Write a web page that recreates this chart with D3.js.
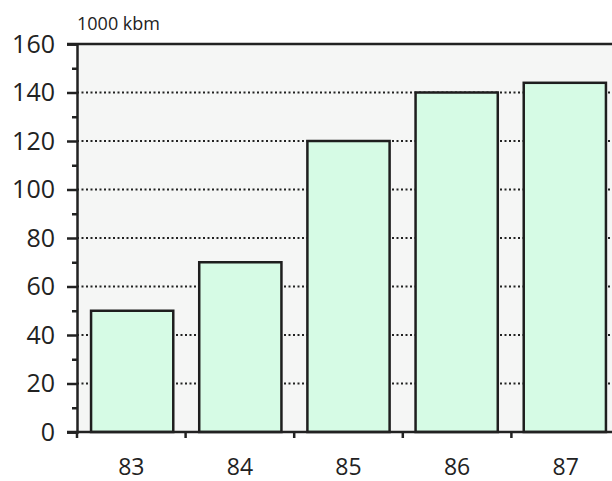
<!DOCTYPE html>
<html><head><meta charset="utf-8">
<script src="https://cdn.jsdelivr.net/npm/d3@7"></script>
<style>body{margin:0;background:#fff}svg{display:block}</style>
</head><body>
<script>
const categories = ["83","84","85","86","87"];
const values = [50, 70, 120, 140, 144];
const yTicks = [0,20,40,60,80,100,120,140,160];
const yMinorTicks = [10,30,50,70,90,110,130,150];
const unitLabel = "1000 kbm";

const W=612,H=481;
const m={left:77,top:44,right:-8,bottom:49};
const svg=d3.select("body").append("svg").attr("width",W).attr("height",H);
const x=d3.scaleBand().domain(categories).range([m.left,W-m.right]).paddingInner(0.24).paddingOuter(0.13);
const xb=d3.scaleBand().domain(categories).range([m.left,W-m.right]);
const y=d3.scaleLinear().domain([0,160]).range([H-m.bottom,m.top]);
const font="'Open Sans', sans-serif";

svg.append("rect").attr("x",m.left).attr("y",y(160)).attr("width",W-m.left+10).attr("height",y(0)-y(160)).attr("fill","#f5f6f5");

// gridlines
svg.append("g").selectAll("line").data(yTicks.filter(d=>d>0&&d<160)).join("line")
 .attr("x1",m.left).attr("x2",W+10).attr("y1",d=>y(d)).attr("y2",d=>y(d))
 .attr("stroke","#222").attr("stroke-width",2).attr("stroke-dasharray","2,2.5");

// bars
svg.append("g").selectAll("rect").data(values).join("rect")
 .attr("x",(d,i)=>x(categories[i])).attr("width",x.bandwidth())
 .attr("y",d=>y(d)).attr("height",d=>y(0)-y(d))
 .attr("fill","#d6fbe5").attr("stroke","#1e1e1e").attr("stroke-width",2.5);

// top border
svg.append("line").attr("x1",67).attr("x2",W+10).attr("y1",y(160)).attr("y2",y(160)).attr("stroke","#222").attr("stroke-width",2.5);

// y axis
const ya=svg.append("g").attr("transform",`translate(${m.left},0)`)
 .call(d3.axisLeft(y).tickValues(yTicks).tickSize(10).tickPadding(12));
ya.select(".domain").attr("stroke","#222").attr("stroke-width",2.5);
ya.selectAll(".tick line").attr("stroke","#222").attr("stroke-width",2.5);
ya.selectAll("text").attr("font-family",font).attr("font-size",25).attr("fill","#222");
const ym=svg.append("g").attr("transform",`translate(${m.left},0)`)
 .call(d3.axisLeft(y).tickValues(yMinorTicks).tickSize(5).tickFormat(""));
ym.select(".domain").remove();
ym.selectAll(".tick line").attr("stroke","#222").attr("stroke-width",2.5);

// x axis
const xa=svg.append("g").attr("transform",`translate(0,${y(0)})`)
 .call(d3.axisBottom(xb).tickSize(0).tickPadding(27));
xa.select(".domain").remove();
xa.selectAll("text").attr("font-family",font).attr("font-size",23).attr("fill","#222");
svg.append("line").attr("x1",67).attr("x2",W+10).attr("y1",y(0)).attr("y2",y(0)).attr("stroke","#222").attr("stroke-width",2.5);
svg.append("g").selectAll("line").data(categories).join("line")
 .attr("x1",d=>xb(d)).attr("x2",d=>xb(d)).attr("y1",y(0)).attr("y2",y(0)+6)
 .attr("stroke","#222").attr("stroke-width",2.5);

svg.append("text").attr("x",m.left).attr("y",30).attr("font-family",font).attr("font-size",18).attr("fill","#222").text(unitLabel);
</script>
</body></html>
